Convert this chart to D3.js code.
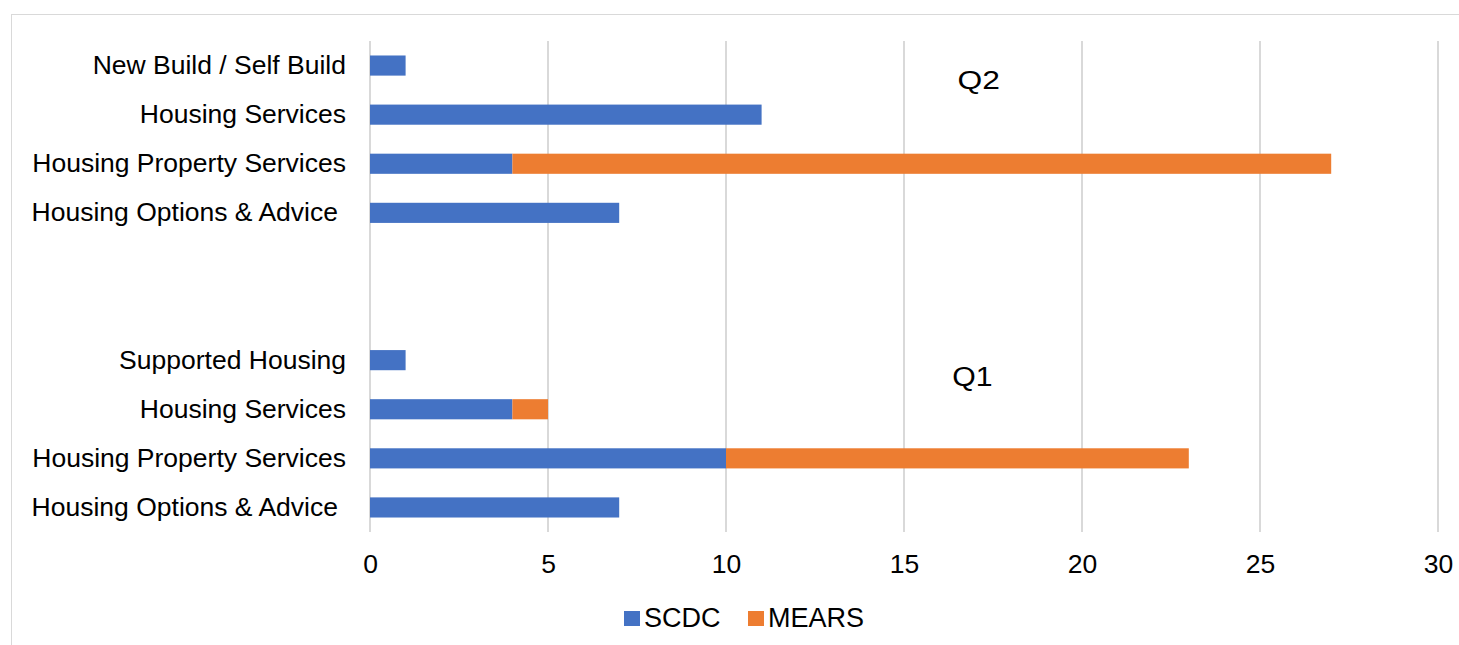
<!DOCTYPE html>
<html>
<head>
<meta charset="utf-8">
<script src="https://cdn.jsdelivr.net/npm/d3@7"></script>
<style>
  html, body { margin: 0; padding: 0; background: #fff; }
  svg { display: block; font-family: "Liberation Sans", Arial, sans-serif; }
</style>
</head>
<body>
<svg id="chart" width="1459" height="645"></svg>
<script>
// Rows from top to bottom; empty labels leave a gap between the quarters
const categories = [
  "New Build / Self Build", "Housing Services", "Housing Property Services", "Housing Options & Advice ",
  "", "",
  "Supported Housing", "Housing Services", "Housing Property Services", "Housing Options & Advice "
];
const scdc  = [1, 11, 4, 7, null, null, 1, 4, 10, 7];
const mears = [0, 0, 23, 0, null, null, 0, 1, 13, 0];
const seriesNames = ["SCDC", "MEARS"];
const seriesColors = ["#4472C4", "#ED7D31"];
const xTicks = [0, 5, 10, 15, 20, 25, 30];
const quarterNames = ["Q2", "Q1"];

const svg = d3.select("#chart");

// Outer chart frame
svg.append("rect")
  .attr("x", 11.5).attr("y", 14.5)
  .attr("width", 1470).attr("height", 700)
  .attr("fill", "none").attr("stroke", "#d9d9d9").attr("stroke-width", 1);

const plot = { left: 370, right: 1438, top: 41, bottom: 532 };

const x = d3.scaleLinear().domain([0, 30]).range([plot.left, plot.right]);
const rowIds = categories.map((c, i) => i);
const y = d3.scaleBand().domain(rowIds).range([plot.top, plot.bottom]).paddingInner(0.59).paddingOuter(0.295);

// Vertical gridlines
const g = svg.append("g");
g.selectAll("line.grid").data(xTicks).join("line")
  .attr("class", "grid")
  .attr("x1", d => x(d)).attr("x2", d => x(d))
  .attr("y1", plot.top).attr("y2", plot.bottom)
  .attr("stroke", "#d9d9d9").attr("stroke-width", 2);

// Stacked bars
const rows = rowIds.map(i => ({ id: i, SCDC: scdc[i] || 0, MEARS: mears[i] || 0 }));
const stack = d3.stack().keys(seriesNames)(rows);
stack.forEach((layer, k) => {
  g.append("g").attr("fill", seriesColors[k])
    .selectAll("rect").data(layer.filter(d => d[1] > d[0])).join("rect")
    .attr("x", d => x(d[0]))
    .attr("width", d => x(d[1]) - x(d[0]))
    .attr("y", d => y(d.data.id))
    .attr("height", y.bandwidth());
});

// Category labels
svg.append("g").selectAll("text").data(rowIds.filter(i => categories[i])).join("text")
  .attr("x", plot.left - 24)
  .attr("y", i => y(i) + y.bandwidth() / 2)
  .attr("dy", "0.32em")
  .attr("text-anchor", "end")
  .attr("font-size", 26.5)
  .attr("fill", "#000")
  .text(i => categories[i].trimEnd())
  .attr("dx", i => categories[i].endsWith(" ") ? -8 : 0);

// X axis tick labels
const xAxis = d3.axisBottom(x).tickValues(xTicks).tickSize(0).tickPadding(0);
const ax = svg.append("g").attr("transform", `translate(0,${plot.bottom})`).call(xAxis);
ax.select(".domain").remove();
ax.selectAll("text")
  .attr("y", 32).attr("dy", "0.35em")
  .attr("font-size", 26.5).attr("fill", "#000")
  .attr("font-family", "'Liberation Sans', Arial, sans-serif");

// Quarter annotations: free text boxes, slightly widened
const quarterLayout = [
  { value: 17.1, row: 0, shift: 0.28, size: 26.5, stretch: 1.2 },
  { value: 16.92, row: 6, shift: 0.34, size: 27, stretch: 1.12 }
];
svg.append("g").selectAll("text").data(quarterNames).join("text")
  .attr("transform", (d, i) => {
    const L = quarterLayout[i];
    return `translate(${x(L.value)},${y(L.row) + y.bandwidth() / 2 + L.shift * y.step()}) scale(${L.stretch},1)`;
  })
  .attr("dy", "0.35em")
  .attr("text-anchor", "middle")
  .attr("font-size", (d, i) => quarterLayout[i].size)
  .attr("fill", "#000")
  .text(d => d);

// Legend
const legend = svg.append("g");
const legendX = [624, 748];
seriesNames.forEach((name, i) => {
  legend.append("rect").attr("x", legendX[i]).attr("y", 611).attr("width", 16).attr("height", 15).attr("fill", seriesColors[i]);
  legend.append("text").attr("x", legendX[i] + 20).attr("y", 618).attr("dy", "0.35em")
    .attr("font-size", 27).attr("fill", "#000").text(name);
});
</script>
</body>
</html>
